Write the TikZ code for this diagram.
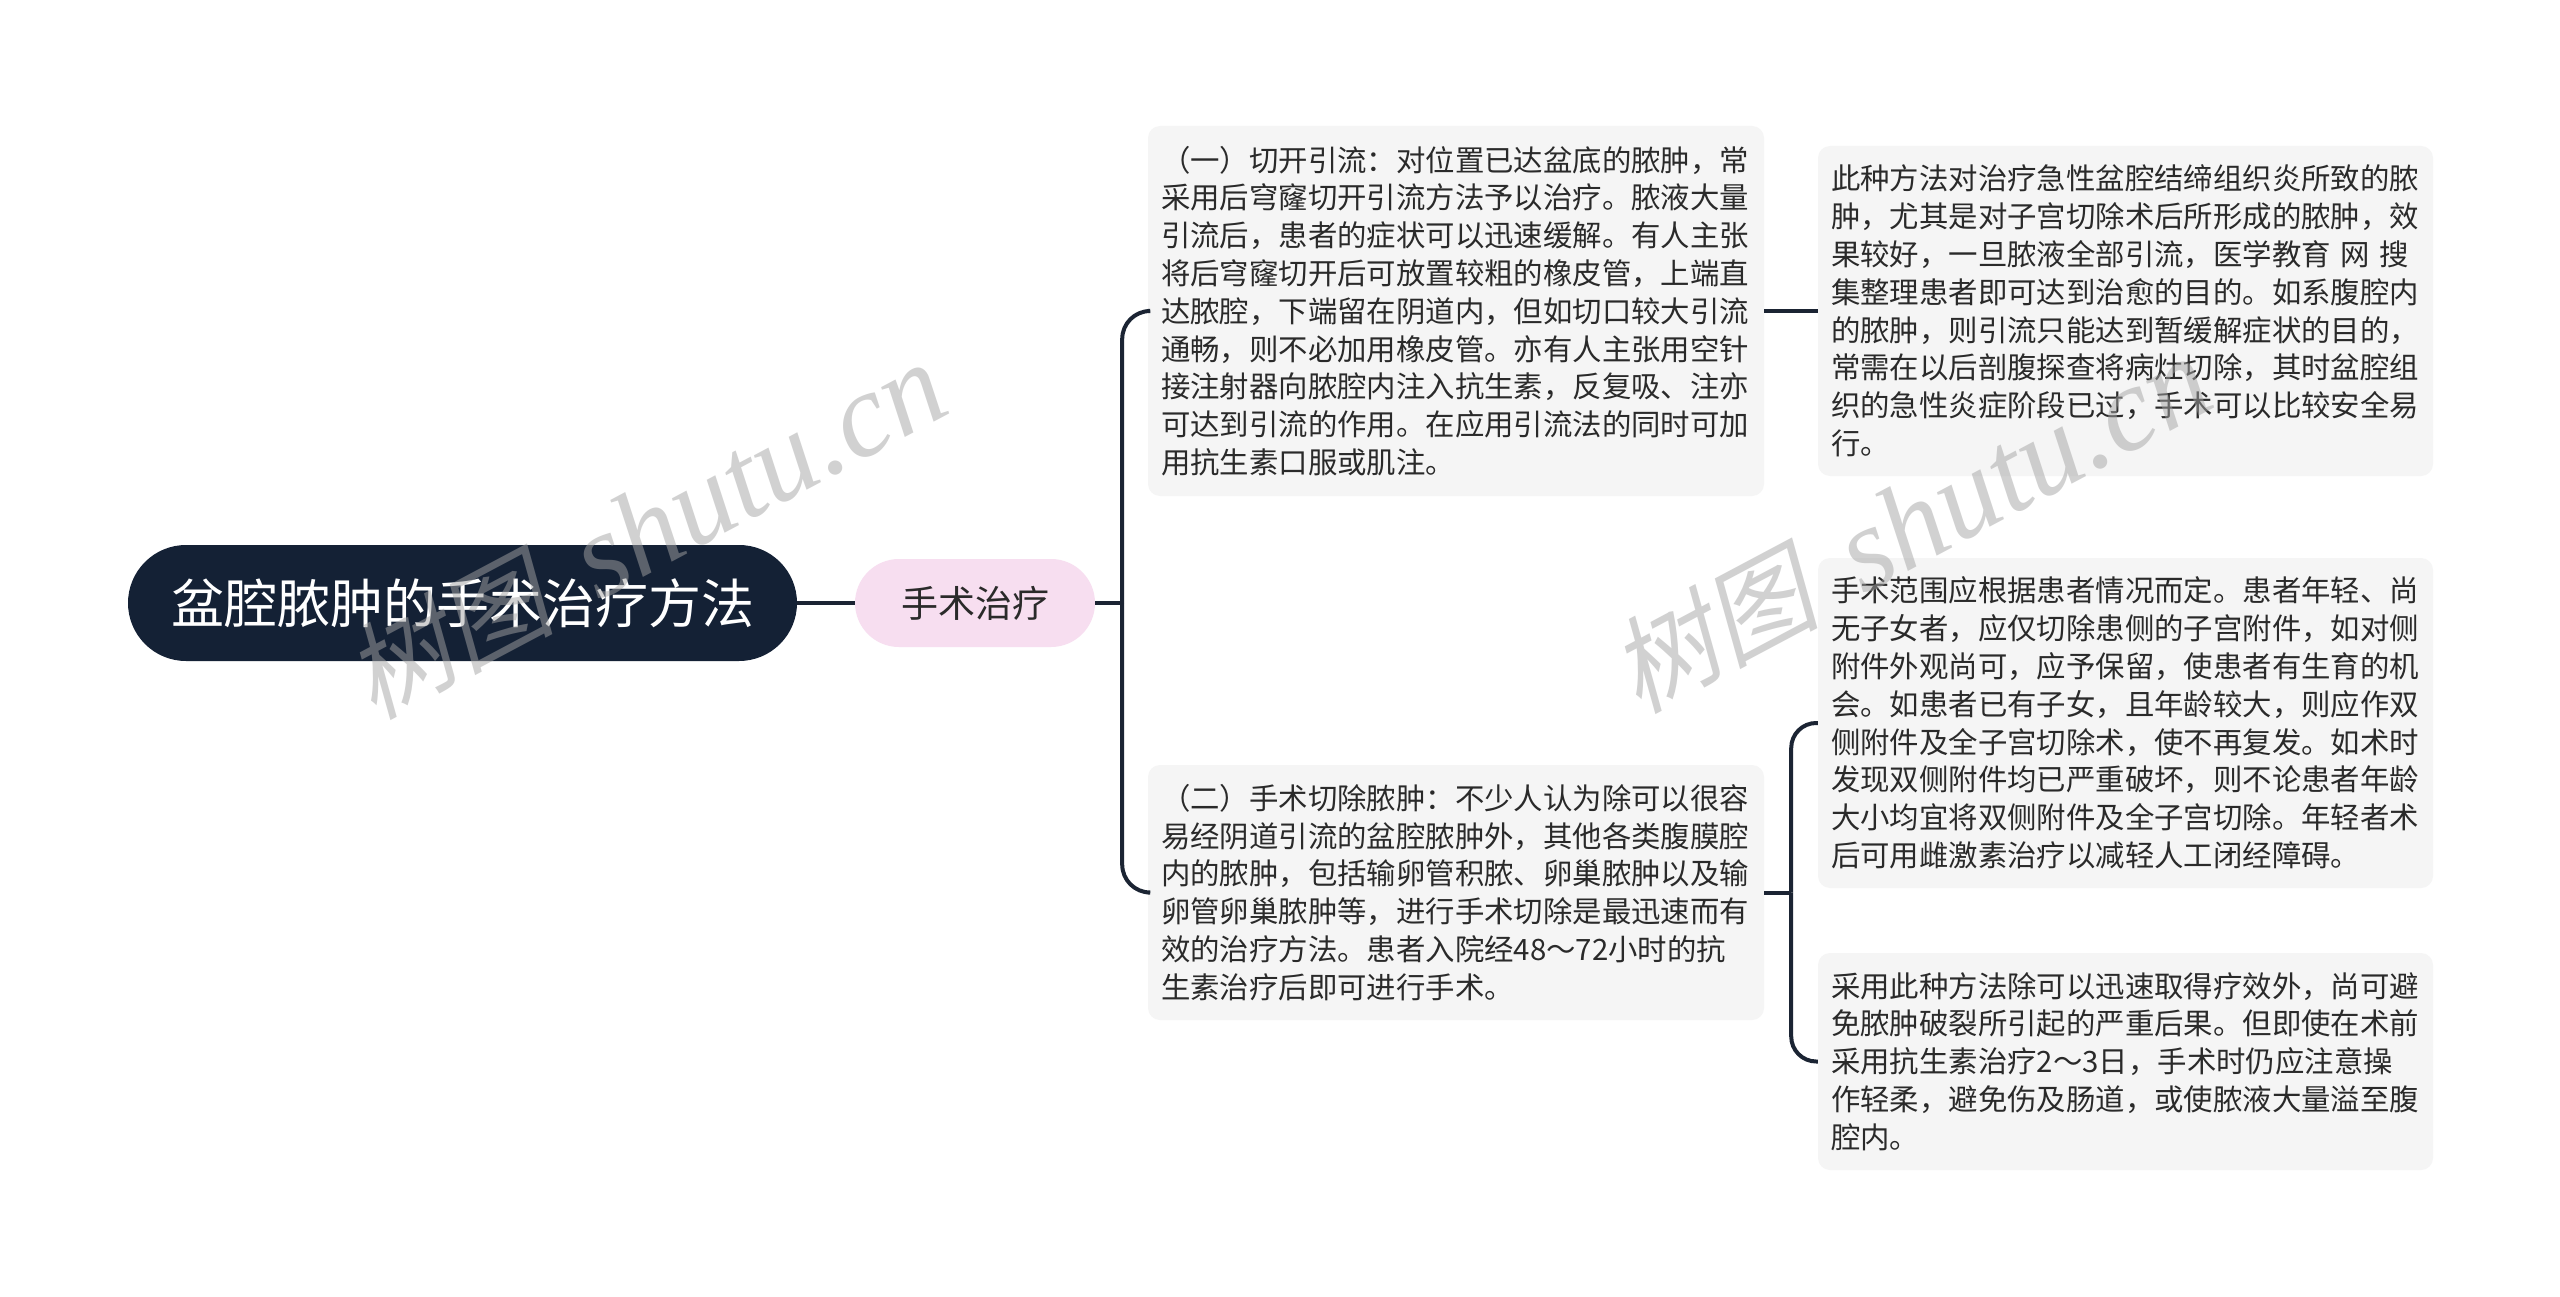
\documentclass[tikz,border=0pt]{standalone}
\usepackage{fontspec}
\setmainfont{Noto Sans CJK SC}
\newfontfamily\wmcjk[FakeSlant=0.22]{Noto Sans CJK SC}
\newfontfamily\wmserif{Liberation Serif}
\definecolor{rootc}{HTML}{142135}
\definecolor{subc}{HTML}{F7DEF0}
\definecolor{leafc}{HTML}{F5F5F5}
\definecolor{linec}{HTML}{1B2433}
\definecolor{txtc}{HTML}{2A2A2A}
\definecolor{wmc}{HTML}{A4A4A4}
\tikzset{
  rootbox/.style={fill=rootc, text=white, rounded corners=58pt, minimum width=669pt, minimum height=116pt, inner sep=0pt, font=\fontsize{53}{64}\selectfont},
  subbox/.style={fill=subc, text=txtc, rounded corners=44pt, minimum width=240pt, minimum height=88pt, inner sep=0pt, font=\fontsize{37}{44}\selectfont},
  leafbox/.style={fill=leafc, text=txtc, rounded corners=12pt, inner xsep=13pt, inner ysep=0pt, text width=590pt, align=left, font=\fontsize{29.4}{37.8}\selectfont},
  leafboxr/.style={leafbox, text width=589pt},
  conn/.style={draw=linec, line width=4pt},
  wmark/.style={text=wmc, opacity=0.5, rotate=28, inner sep=0pt}
}
\newcommand{\wmtext}{{\fontsize{105}{110}\selectfont\wmcjk 树图}\hspace{45pt}{\fontsize{120}{120}\selectfont\wmserif\itshape shutu.cn}}
\begin{document}
\begin{tikzpicture}[x=1pt,y=-1pt]
\useasboundingbox (0,0) rectangle (2560,1297);
\fill[white] (0,0) rectangle (2560,1297);

\node[rootbox] (root) at (462.5,603) {盆腔脓肿的手术治疗方法};
\node[subbox] (sub) at (975,603) {手术治疗};

\node[leafbox, minimum height=370pt] (b1) at (1456,311) {（一）切开引流：对位置已达盆底的脓肿，常\\采用后穹窿切开引流方法予以治疗。脓液大量\\引流后，患者的症状可以迅速缓解。有人主张\\将后穹窿切开后可放置较粗的橡皮管，上端直\\达脓腔，下端留在阴道内，但如切口较大引流\\通畅，则不必加用橡皮管。亦有人主张用空针\\接注射器向脓腔内注入抗生素，反复吸、注亦\\可达到引流的作用。在应用引流法的同时可加\\用抗生素口服或肌注。};

\node[leafbox, minimum height=255pt] (b2) at (1456,892.5) {（二）手术切除脓肿：不少人认为除可以很容\\易经阴道引流的盆腔脓肿外，其他各类腹膜腔\\内的脓肿，包括输卵管积脓、卵巢脓肿以及输\\卵管卵巢脓肿等，进行手术切除是最迅速而有\\效的治疗方法。患者入院经48～72小时的抗\\生素治疗后即可进行手术。};

\node[leafboxr, minimum height=330pt] (b3) at (2125.5,311) {此种方法对治疗急性盆腔结缔组织炎所致的脓\\肿，尤其是对子宫切除术后所形成的脓肿，效\\果较好，一旦脓液全部引流，医学教育 网 搜\\集整理患者即可达到治愈的目的。如系腹腔内\\的脓肿，则引流只能达到暂缓解症状的目的，\\常需在以后剖腹探查将病灶切除，其时盆腔组\\织的急性炎症阶段已过，手术可以比较安全易\\行。};

\node[leafboxr, minimum height=330pt] (b4) at (2125.5,723) {手术范围应根据患者情况而定。患者年轻、尚\\无子女者，应仅切除患侧的子宫附件，如对侧\\附件外观尚可，应予保留，使患者有生育的机\\会。如患者已有子女，且年龄较大，则应作双\\侧附件及全子宫切除术，使不再复发。如术时\\发现双侧附件均已严重破坏，则不论患者年龄\\大小均宜将双侧附件及全子宫切除。年轻者术\\后可用雌激素治疗以减轻人工闭经障碍。};

\node[leafboxr, minimum height=217pt] (b5) at (2125.5,1061.5) {采用此种方法除可以迅速取得疗效外，尚可避\\免脓肿破裂所引起的严重后果。但即使在术前\\采用抗生素治疗2～3日，手术时仍应注意操\\作轻柔，避免伤及肠道，或使脓液大量溢至腹\\腔内。};

% connectors
\draw[conn, line width=3.5pt] (root.east) -- (sub.west);
\draw[conn] (sub.east) -- ++(27,0) coordinate (j1);
\draw[conn, rounded corners=28pt] (j1) |- (b1.west);
\draw[conn, rounded corners=28pt] (j1) |- (b2.west);
\draw[conn] (b1.east) -- (b3.west);
\draw[conn] (b2.east) -- ++(27,0) coordinate (j2);
\draw[conn, rounded corners=25pt] (j2) |- (b4.west);
\draw[conn, rounded corners=25pt] (j2) |- (b5.west);

% watermarks
\node[wmark] (wm1) at (645,531) {\wmtext};
\node[wmark] (wm2) at (1910,525) {\wmtext};
\end{tikzpicture}
\end{document}
